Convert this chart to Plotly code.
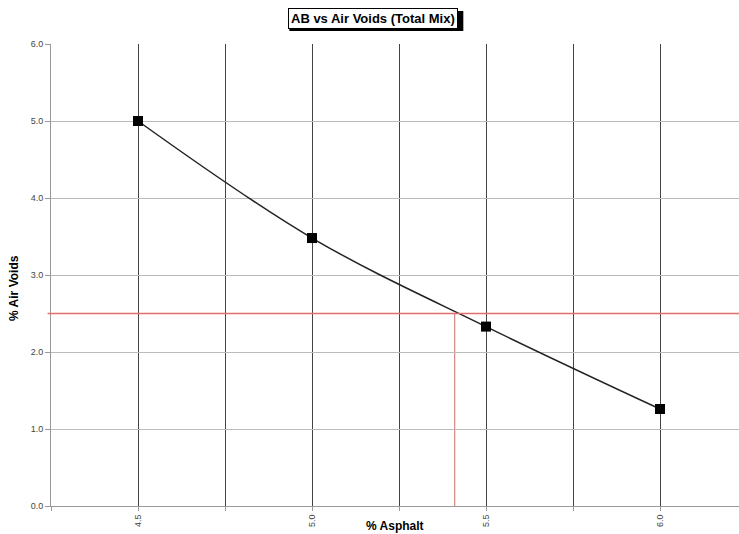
import plotly.graph_objects as go

asphalt = [4.5, 5.0, 5.5, 6.0]
air_voids = [5.0, 3.48, 2.33, 1.26]
target_voids = 2.5
optimum_ab = 5.41
x_ticks = [4.25, 4.5, 4.75, 5.0, 5.25, 5.5, 5.75, 6.0]
x_labels = ["", "4.5", "", "5.0", "", "5.5", "", "6.0"]
y_ticks = [0, 1, 2, 3, 4, 5, 6]
y_labels = ["0.0", "1.0", "2.0", "3.0", "4.0", "5.0", "6.0"]

fig = go.Figure()
fig.add_trace(go.Scatter(x=asphalt, y=air_voids, mode="lines+markers",
                         line=dict(color="#222", width=1.5, shape="spline", smoothing=1),
                         marker=dict(symbol="square", size=10, color="black")))

# target air voids and optimum asphalt reference lines
fig.add_shape(type="line", xref="paper", yref="y", x0=-0.005, x1=1, y0=target_voids, y1=target_voids,
              line=dict(color="#e07070", width=1.4), layer="above")
fig.add_shape(type="line", xref="x", yref="y", x0=optimum_ab, x1=optimum_ab, y0=0, y1=target_voids,
              line=dict(color="#d9847f", width=1.2), layer="below")

font = "Liberation Sans, Arial, sans-serif"
fig.update_layout(
    width=739, height=534, showlegend=False,
    margin=dict(l=51, r=0, t=44, b=28),
    paper_bgcolor="white", plot_bgcolor="white",
    font=dict(family=font, size=9, color="#444"),
    xaxis=dict(range=[4.25, 6.227], tickvals=x_ticks, ticktext=x_labels, tickangle=-90,
               showgrid=True, gridcolor="#444", gridwidth=1, zeroline=False,
               showline=True, linecolor="#999", ticks="outside", ticklen=4, tickcolor="#999"),
    yaxis=dict(range=[0, 6], tickvals=y_ticks, ticktext=y_labels,
               showgrid=True, gridcolor="#bbb", gridwidth=1, zeroline=False,
               showline=True, linecolor="#999", ticks="outside", ticklen=5, tickcolor="#999"),
)
fig.add_annotation(text="<b>% Air Voids</b>", xref="paper", yref="paper", x=0, y=0.472,
                   xshift=-37, textangle=-90, showarrow=False, xanchor="center", yanchor="middle",
                   font=dict(size=12, color="black"))
fig.add_annotation(text="<b>% Asphalt</b>", xref="paper", yref="paper", x=0.5, y=0,
                   yshift=-20, yanchor="middle", showarrow=False, font=dict(size=12, color="black"))
# title shadow as a pixel-sized shape, then the boxed title
fig.add_shape(type="rect", xref="paper", yref="paper", xsizemode="pixel", ysizemode="pixel",
              xanchor=0.4685, yanchor=1, x0=-84, x1=90, y0=13, y1=33,
              fillcolor="black", line=dict(width=0), layer="above")
fig.add_annotation(text="<b>AB vs Air Voids (Total Mix)</b>", xref="paper", yref="paper",
                   x=0.4685, y=1, yshift=36, yanchor="top", showarrow=False,
                   font=dict(size=13, color="black"), bgcolor="white", borderpad=2,
                   bordercolor="black", borderwidth=1)

fig.write_html("out.html")
